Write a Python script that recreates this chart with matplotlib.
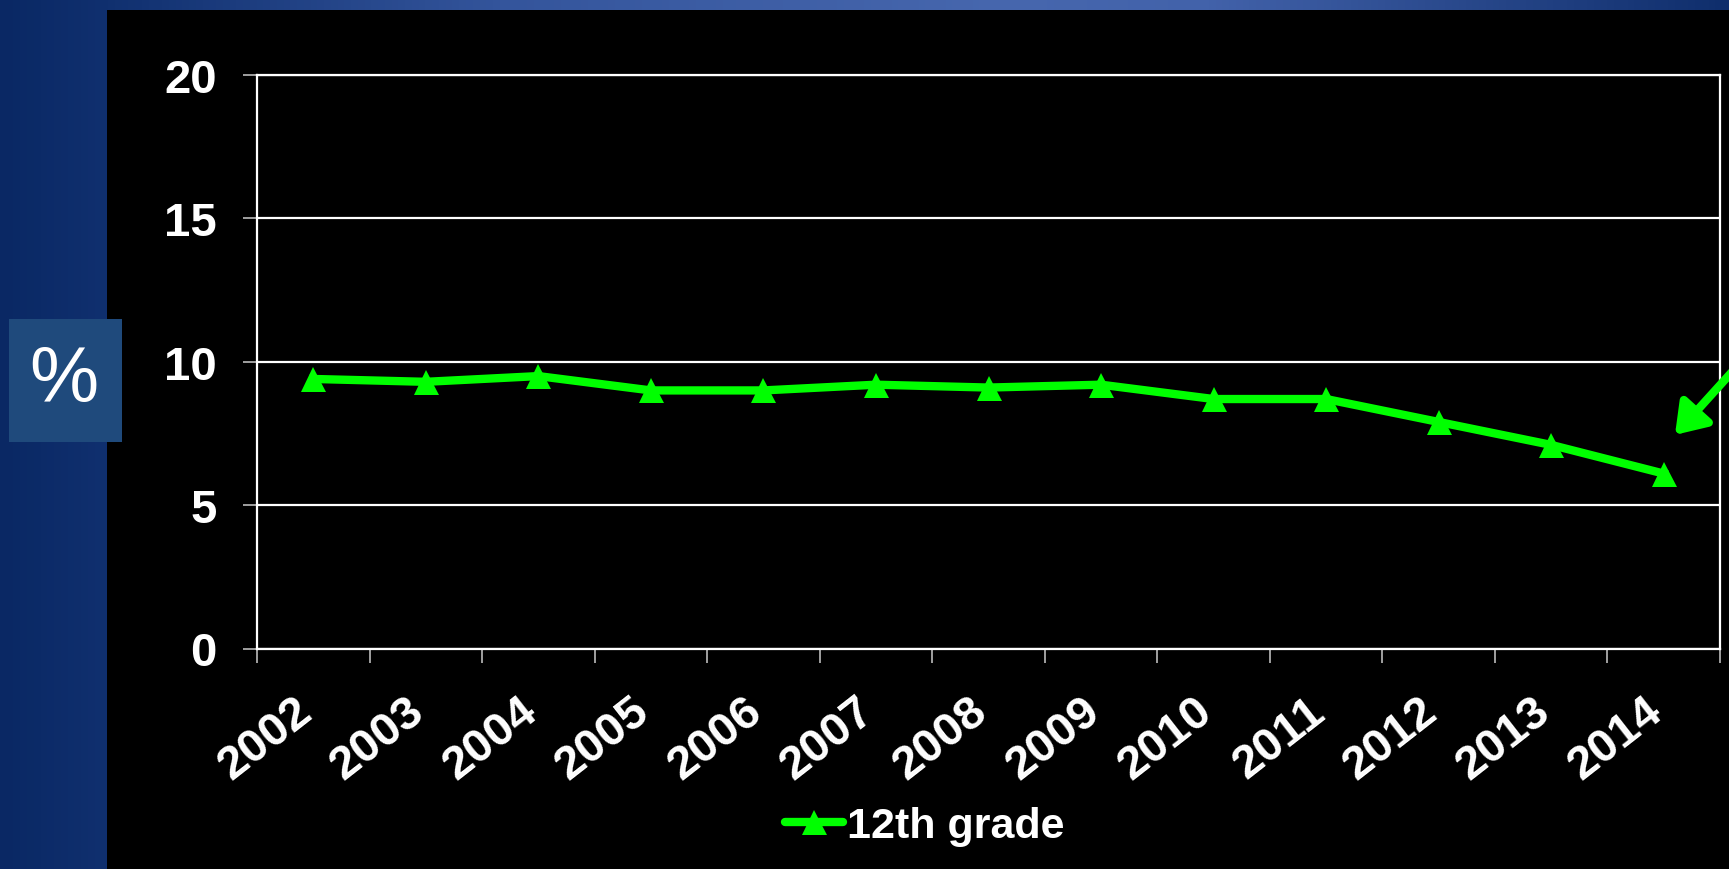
import numpy as np
import matplotlib
matplotlib.use("Agg")
import matplotlib.pyplot as plt
from matplotlib.colors import LinearSegmentedColormap
from matplotlib.patches import Rectangle
from matplotlib.transforms import ScaledTranslation

plt.rcParams['font.family'] = ['Liberation Sans', 'DejaVu Sans']

# data
years = ['2002', '2003', '2004', '2005', '2006', '2007', '2008',
         '2009', '2010', '2011', '2012', '2013', '2014']
grade12 = [9.4, 9.3, 9.5, 9.0, 9.0, 9.2, 9.1, 9.2, 8.7, 8.7, 7.9, 7.1, 6.1]
yticks = [0, 5, 10, 15, 20]

GREEN = '#00ff00'
W, H = 1729, 870

fig = plt.figure(figsize=(W / 100, H / 100), dpi=100)

# slide background: blue gradient with black chart panel
bg = fig.add_axes([0, 0, 1, 1])
bg.set_xlim(0, W)
bg.set_ylim(H, 0)
bg.axis('off')
cmap = LinearSegmentedColormap.from_list(
    'slide', [(0.0, '#0a2864'), (0.06, '#10306f'), (0.29, '#34559c'),
              (0.58, '#4767ae'), (0.70, '#4262aa'), (1.0, '#0f2e6c')])
grad = np.linspace(0, 1, 512)[None, :]
bg.imshow(grad, cmap=cmap, extent=[0, W, H, 0], aspect='auto')
bg.add_patch(Rectangle((107, 11), W - 107, H - 11, color='black', lw=0))
bg.add_patch(Rectangle((9, 320), 113, 123, color='#1f4a7c', lw=0))
bg.text(64, 382, '%', color='white', fontsize=56, ha='center', va='center')

# chart
ax = fig.add_axes([257 / W, 1 - 649.5 / H, (1720 - 257) / W, (649.5 - 76) / H])
ax.set_facecolor('black')
x = np.arange(len(years))
ax.plot(x, grade12, color=GREEN, lw=6, marker='^', ms=18, mew=0,
        solid_joinstyle='round', label='12th grade', zorder=3)

ax.set_xlim(-0.5, len(years) - 0.5)
ax.set_ylim(0, 20)
ax.set_yticks(yticks)
ax.yaxis.grid(True, color='white', lw=1.6)
ax.set_axisbelow(True)
for s in ax.spines.values():
    s.set_color('white')
    s.set_linewidth(1.6)

ax.tick_params(axis='y', colors='white', length=10, width=1.2, pad=19,
               labelsize=34)
for t in ax.get_yticklabels():
    t.set_fontweight('bold')
ax.tick_params(axis='y', color='#bbbbbb')

ax.set_xticks(x)
ax.set_xticklabels(years, rotation=38, ha='right', va='top',
                   fontsize=34, fontweight='bold', color='white')
ax.tick_params(axis='x', which='major', length=0, pad=29)
ax.set_xticks(np.arange(len(years) + 1) - 0.5, minor=True)
ax.tick_params(axis='x', which='minor', length=10, width=1.2, color='#bbbbbb',
               direction='out')
shift = ScaledTranslation(7 / 100, 0, fig.dpi_scale_trans)
for t in ax.get_xticklabels():
    t.set_transform(t.get_transform() + shift)

# pointer arrow at the 2014 drop
ax.annotate('', xy=(12.1, 7.45), xytext=(12.85, 10.7),
            arrowprops=dict(arrowstyle='-|>,head_length=0.8,head_width=0.55',
                            color=GREEN, lw=6, mutation_scale=22,
                            shrinkA=0, shrinkB=0),
            annotation_clip=False)

leg = fig.legend(loc='center', bbox_to_anchor=(925 / W, 1 - 827 / H),
                 frameon=False, fontsize=31, handlelength=1.35,
                 handletextpad=0.1, borderpad=0)
for t in leg.get_texts():
    t.set_color('white')
    t.set_fontweight('bold')
for h in leg.get_lines():
    h.set_solid_capstyle('round')

fig.savefig('out.png', dpi=100, facecolor='black')
